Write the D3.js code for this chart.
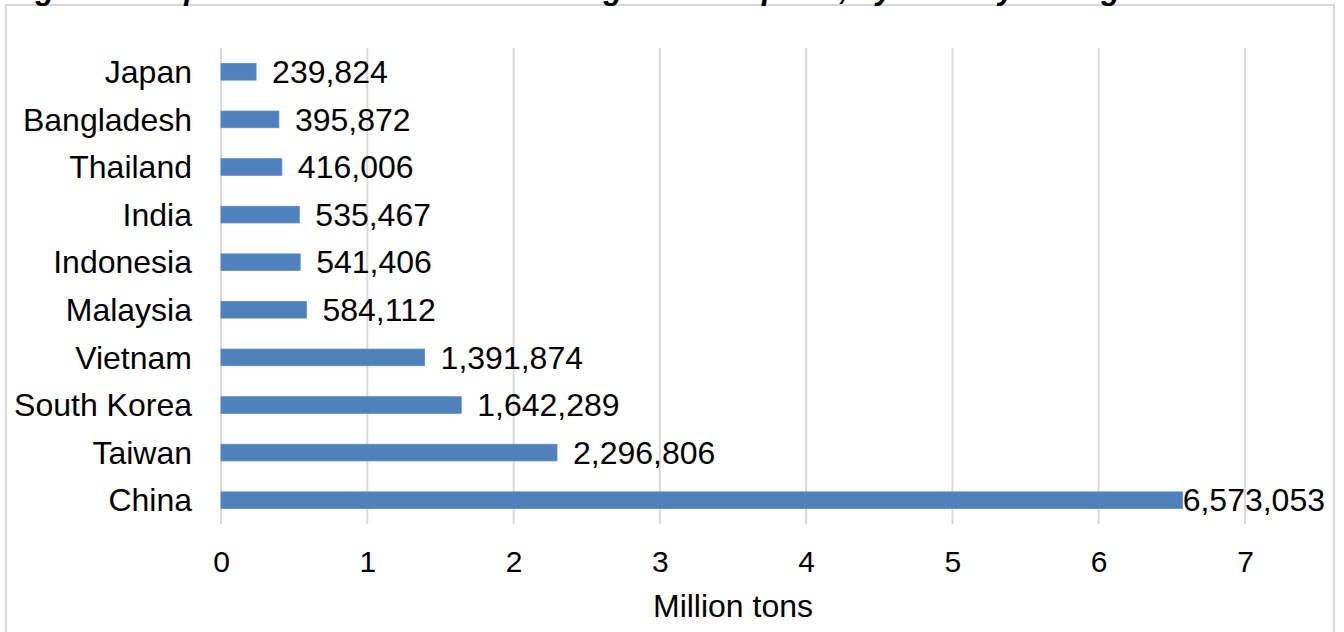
<!DOCTYPE html>
<html>
<head>
<meta charset="utf-8">
<script src="https://cdn.jsdelivr.net/npm/d3@7"></script>
<style>
  html, body { margin: 0; padding: 0; background: #ffffff; }
  svg { display: block; font-family: Arial, "Liberation Sans", sans-serif; }
</style>
</head>
<body>
<svg id="chart" width="1344" height="632"></svg>
<script>
// Countries, listed from top to bottom of the chart
const countries = ["Japan", "Bangladesh", "Thailand", "India", "Indonesia",
                   "Malaysia", "Vietnam", "South Korea", "Taiwan", "China"];
// Tonnage per country
const tons = [239824, 395872, 416006, 535467, 541406,
              584112, 1391874, 1642289, 2296806, 6573053];
// Axis ticks (million tons)
const xTicks = [0, 1, 2, 3, 4, 5, 6, 7];
const titleText = "Figure 1: Top ten Asian markets receiving waste imports, by country of origin";
const axisTitle = "Million tons";

const svg = d3.select("#chart");

// outer chart frame
svg.append("rect")
  .attr("x", 6).attr("y", 5)
  .attr("width", 1328).attr("height", 640)
  .attr("fill", "#ffffff")
  .attr("stroke", "#d9d9d9")
  .attr("stroke-width", 2);

// title, running off the top edge of the frame
svg.append("text")
  .attr("x", 8).attr("y", -1)
  .attr("font-size", 31)
  .attr("font-weight", "bold")
  .attr("font-style", "italic")
  .attr("fill", "#000")
  .text(titleText);

const plot = { left: 221, right: 1245, top: 48, bottom: 524 };

const x = d3.scaleLinear().domain([0, 7]).range([plot.left, plot.right]);
const y = d3.scaleBand()
  .domain(countries)
  .range([plot.top, plot.bottom])
  .paddingInner(0.65)
  .paddingOuter(0.325);

// vertical gridlines
svg.append("g")
  .selectAll("line")
  .data(xTicks)
  .join("line")
  .attr("x1", d => x(d)).attr("x2", d => x(d))
  .attr("y1", plot.top).attr("y2", plot.bottom)
  .attr("stroke", "#d9d9d9")
  .attr("stroke-width", 2);

// bars
const data = countries.map((c, i) => ({ c, v: tons[i] }));
svg.append("g")
  .selectAll("rect")
  .data(data)
  .join("rect")
  .attr("x", x(0))
  .attr("y", d => y(d.c))
  .attr("width", d => x(d.v / 1e6) - x(0))
  .attr("height", y.bandwidth())
  .attr("fill", "#4f81bd")
  .attr("stroke", "#5b8cc8")
  .attr("stroke-width", 0.8);

// category labels
const yAxis = d3.axisLeft(y).tickSize(0).tickPadding(29);
const gy = svg.append("g").attr("transform", `translate(${plot.left},0)`).call(yAxis);
gy.select(".domain").remove();
gy.selectAll("text")
  .attr("font-size", 32)
  .attr("font-family", "Arial, 'Liberation Sans', sans-serif")
  .attr("fill", "#000")
  .attr("dy", "0.35em");

// value labels, kept inside the chart area
const fmt = d3.format(",");
const labelLimit = 1325;
svg.append("g")
  .selectAll("text")
  .data(data)
  .join("text")
  .attr("y", d => y(d.c) + y.bandwidth() / 2)
  .attr("dy", "0.35em")
  .attr("font-size", 32)
  .attr("fill", "#000")
  .text(d => fmt(d.v))
  .each(function (d) {
    const w = this.getComputedTextLength();
    let px = x(d.v / 1e6) + 16;
    if (px + w > labelLimit) px = labelLimit - w;
    d3.select(this).attr("x", px);
  });

// x axis tick labels
const xAxis = d3.axisBottom(x).tickValues(xTicks).tickSize(0).tickPadding(0)
  .tickFormat(d3.format("d"));
const gx = svg.append("g").attr("transform", `translate(0,${plot.bottom})`).call(xAxis);
gx.select(".domain").remove();
gx.selectAll("text")
  .attr("font-size", 30)
  .attr("font-family", "Arial, 'Liberation Sans', sans-serif")
  .attr("fill", "#000")
  .attr("dy", null)
  .attr("y", 48);

// axis title
svg.append("text")
  .attr("x", (plot.left + plot.right) / 2)
  .attr("y", 617)
  .attr("text-anchor", "middle")
  .attr("font-size", 32)
  .attr("fill", "#000")
  .text(axisTitle);
</script>
</body>
</html>
